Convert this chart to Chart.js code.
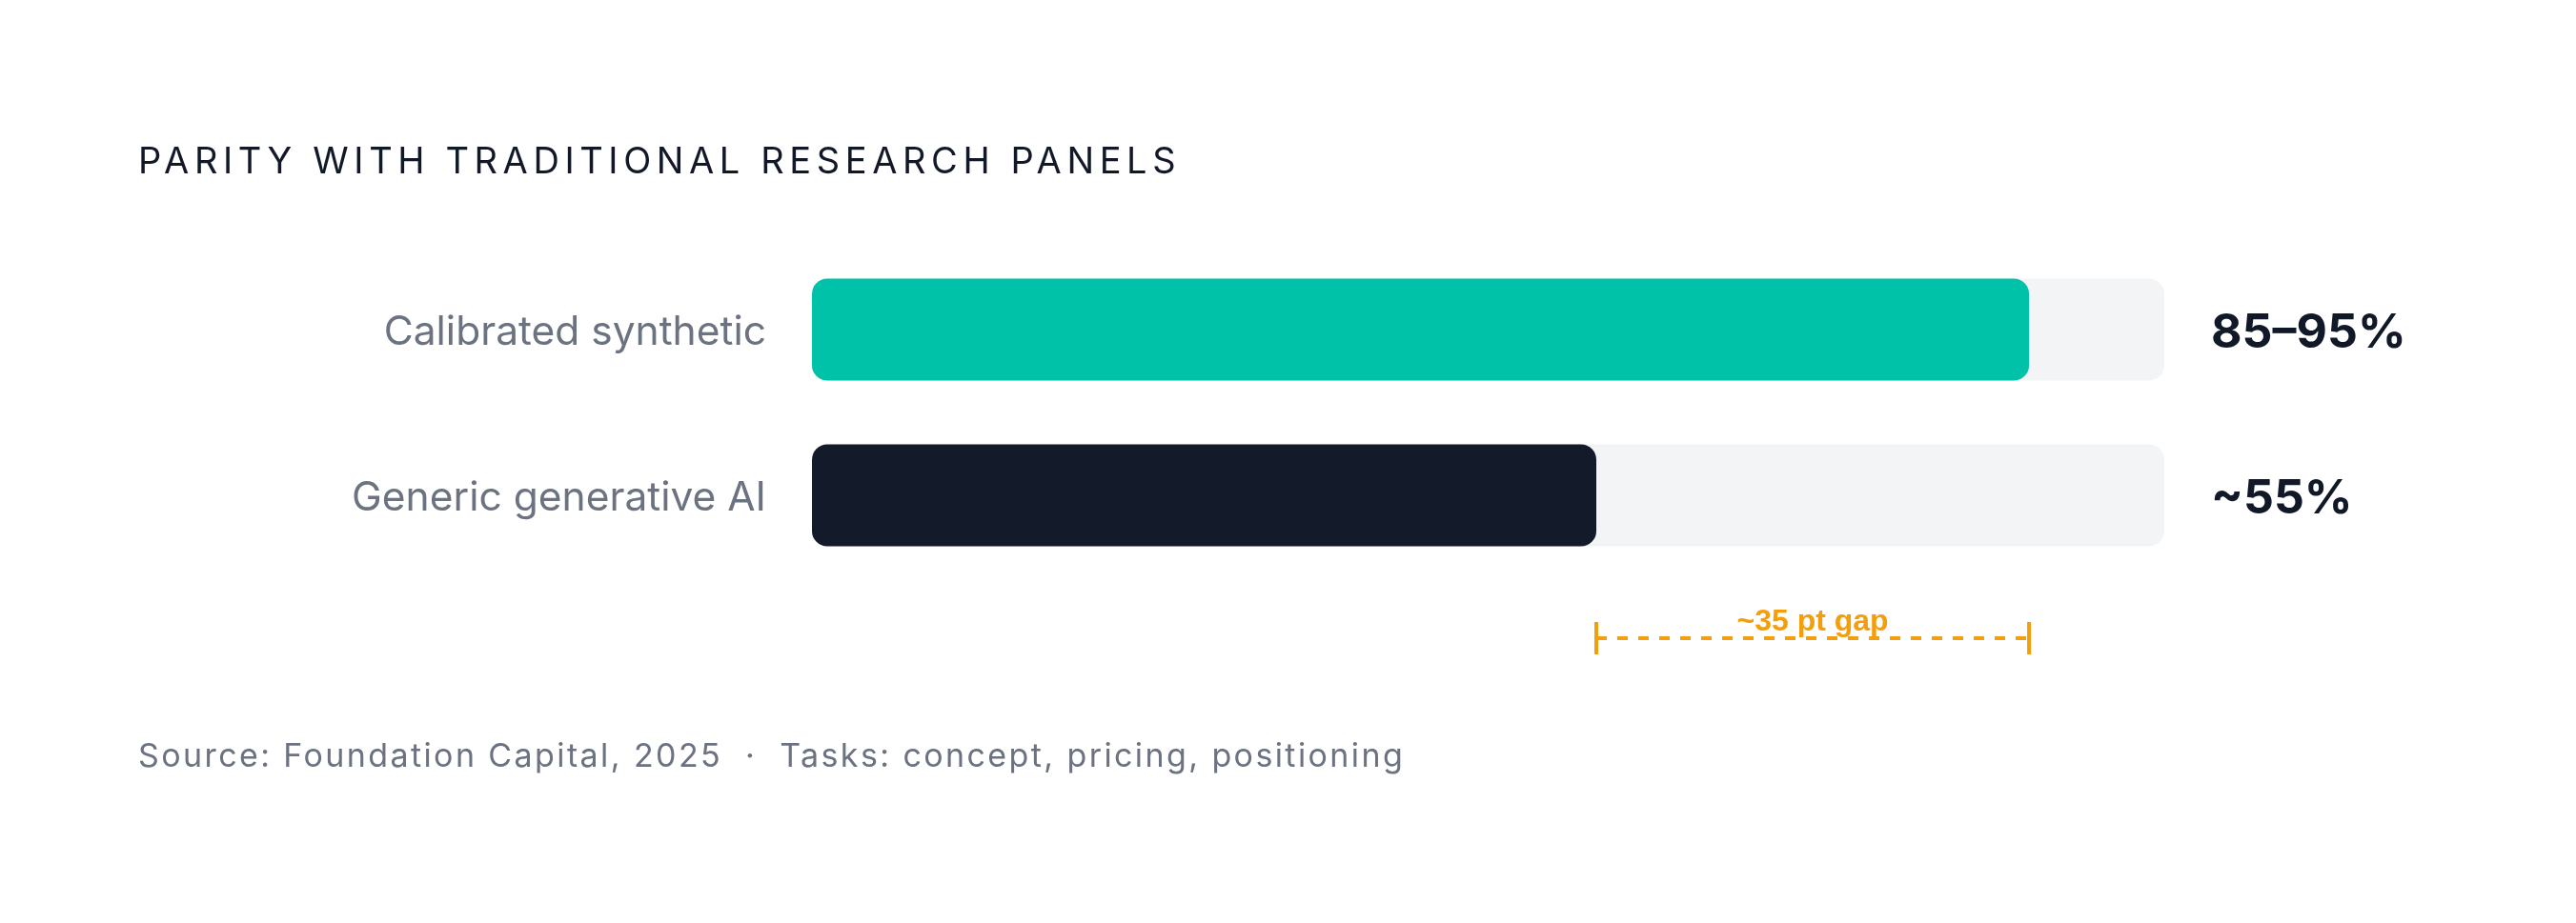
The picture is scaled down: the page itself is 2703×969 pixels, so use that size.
<!DOCTYPE html>
<html>
<head>
<meta charset="utf-8">
<script src="https://cdn.jsdelivr.net/npm/chart.js@4.4.1/dist/chart.umd.min.js"></script>
<style>
  html, body { margin: 0; padding: 0; background: #ffffff; }
  #wrap { position: relative; width: 2703px; height: 969px; }
  #title {
    position: absolute; left: 145px; top: 149px;
    font-family: 'Inter', sans-serif; font-size: 38px; line-height: 38px;
    letter-spacing: 5.6px; color: #111827; white-space: nowrap;
  }
  #source {
    position: absolute; left: 145px; top: 776px;
    font-family: 'Inter', sans-serif; font-size: 34px; line-height: 34px;
    letter-spacing: 2.4px; color: #6b7280; white-space: nowrap;
  }
</style>
</head>
<body>
<div id="wrap">
  <canvas id="chart" width="2703" height="969"></canvas>
  <div id="title">PARITY WITH TRADITIONAL RESEARCH PANELS</div>
  <div id="source">Source: Foundation Capital, 2025 &nbsp;·&nbsp; Tasks: concept, pricing, positioning</div>
</div>
<script>
"use strict"

// data
var categories = ['Calibrated synthetic', 'Generic generative AI'];
var parityValues = [90, 58];
var trackValues = [100, 100];
var valueLabels = ['85–95%', '~55%'];
var barColors = ['#00c2a8', '#131a29'];
var gapLabel = '~35 pt gap';

// value text to the right of each track + the orange gap bracket
var annotations = {
    id: 'annotations',
    afterDatasetsDraw: function (chart) {
        var ctx = chart.ctx;
        var area = chart.chartArea;
        var x = chart.scales.x;
        var y = chart.scales.y;

        ctx.save();
        ctx.fillStyle = '#111827';
        ctx.font = "bold 50px 'Inter', sans-serif";
        ctx.textAlign = 'left';
        ctx.textBaseline = 'middle';
        for (var i = 0; i < valueLabels.length; i++) {
            ctx.fillText(valueLabels[i], area.right + 49, y.getPixelForValue(i) + 4);
        }

        // bracket between the two bar ends
        var x1 = x.getPixelForValue(parityValues[1]);
        var x2 = x.getPixelForValue(parityValues[0]);
        var ly = area.bottom + 63;
        ctx.strokeStyle = '#f59e0b';
        ctx.lineWidth = 4;
        ctx.setLineDash([11, 11]);
        ctx.beginPath();
        ctx.moveTo(x1, ly);
        ctx.lineTo(x2, ly);
        ctx.stroke();
        ctx.setLineDash([]);
        ctx.beginPath();
        ctx.moveTo(x1, ly - 17);
        ctx.lineTo(x1, ly + 17);
        ctx.moveTo(x2, ly - 17);
        ctx.lineTo(x2, ly + 17);
        ctx.stroke();

        ctx.fillStyle = '#f59e0b';
        ctx.font = "bold 32px 'Liberation Sans', Arial, sans-serif";
        ctx.textAlign = 'center';
        ctx.textBaseline = 'alphabetic';
        ctx.fillText(gapLabel, (x1 + x2) / 2, ly - 8);
        ctx.restore();
    }
};

var ctx = document.getElementById('chart').getContext('2d');
var myChart = new Chart(ctx, {
    type: 'bar',
    data: {
        labels: categories,
        datasets: [{
            label: 'parity',
            data: parityValues,
            backgroundColor: barColors,
            borderRadius: 16,
            borderSkipped: false,
            grouped: false,
            barPercentage: 0.615,
            categoryPercentage: 1,
            order: 0,
        },
        {
            label: 'track',
            data: trackValues,
            backgroundColor: '#f3f4f6',
            borderRadius: 16,
            borderSkipped: false,
            grouped: false,
            barPercentage: 0.615,
            categoryPercentage: 1,
            order: 1,
        }]
    },
    options: {
        indexAxis: 'y',
        responsive: false,
        animation: false,
        events: [],
        layout: { padding: { left: 0, right: 432, top: 259, bottom: 362 } },
        scales: {
            x: {
                display: false,
                min: 0,
                max: 100,
            },
            y: {
                grid: { display: false, drawTicks: false },
                border: { display: false },
                afterFit: function (scale) { scale.width = 852; },
                ticks: {
                    padding: 48,
                    labelOffset: 3,
                    color: '#6b7280',
                    font: { family: "'Inter', sans-serif", size: 42.5 },
                }
            }
        },
        plugins: {
            legend: { display: false },
            title: { display: false },
            tooltip: { enabled: false }
        }
    },
    plugins: [annotations]
});
</script>
</body>
</html>
